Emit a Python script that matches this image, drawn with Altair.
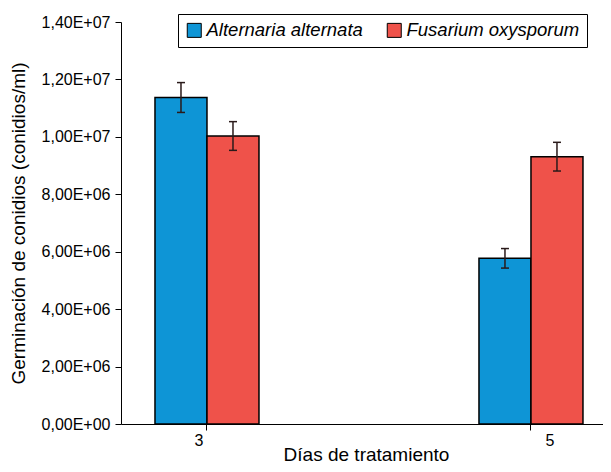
import altair as alt
import pandas as pd

# ---- data ----
days = ["3", "5"]
series = ["Alternaria alternata", "Fusarium oxysporum"]
alternaria_mean = [1.137e7, 5.77e6]
alternaria_err = [0.52e6, 0.34e6]
fusarium_mean = [1.003e7, 9.31e6]
fusarium_err = [0.50e6, 0.50e6]
colors = ["#0E95D6", "#EF524A"]
y_ticks = [0, 2e6, 4e6, 6e6, 8e6, 1e7, 1.2e7, 1.4e7]

rows = []
for i, d in enumerate(days):
    rows.append({"day": d, "serie": series[0], "mean": alternaria_mean[i], "err": alternaria_err[i]})
    rows.append({"day": d, "serie": series[1], "mean": fusarium_mean[i], "err": fusarium_err[i]})
df = pd.DataFrame(rows)

FONT = "Liberation Sans"

base = alt.Chart(df).transform_calculate(
    lo="datum.mean - datum.err", hi="datum.mean + datum.err"
)

x = alt.X(
    "day:N",
    sort=days,
    title="Días de tratamiento",
    scale=alt.Scale(range=[0, 490], paddingInner=0.679, paddingOuter=0.0957, align=0.548),
    axis=alt.Axis(
        labelAngle=0,
        labelFontSize=16,
        labelFont=FONT,
        labelColor="black",
        labelPadding=2,
        labelOffset={"condition": {"test": "datum.value == '3'", "value": -8}, "value": 19},
        tickSize=6,
        tickColor="black",
        domainColor="black",
        titleFont=FONT,
        titleFontSize=19,
        titleFontWeight="normal",
        titleColor="black",
        titleBaseline="alphabetic",
        titleX=245,
        titleY=36,
    ),
)
xoff = alt.XOffset("serie:N", sort=series, scale=alt.Scale(paddingInner=0, paddingOuter=0))

ylabel_expr = (
    "datum.value == 0 ? '0,00E+00' : "
    "replace(format(datum.value / pow(10, floor(log(datum.value) / LN10 + 1e-9)), '.2f'), '.', ',')"
    " + 'E+' + (floor(log(datum.value) / LN10 + 1e-9) < 10 ? '0' : '')"
    " + floor(log(datum.value) / LN10 + 1e-9)"
)

y = alt.Y(
    "mean:Q",
    title="Germinación de conidios (conidios/ml)",
    scale=alt.Scale(domain=[0, 1.4e7], nice=False, zero=True),
    axis=alt.Axis(
        values=y_ticks,
        labelExpr=ylabel_expr,
        grid=False,
        labelFontSize=16,
        labelFont=FONT,
        labelColor="black",
        labelPadding=5,
        tickSize=6,
        tickColor="black",
        domainColor="black",
        titleFont=FONT,
        titleFontSize=19,
        titleFontWeight="normal",
        titleColor="black",
        titlePadding=13,
    ),
)

color = alt.Color(
    "serie:N",
    sort=series,
    scale=alt.Scale(domain=series, range=colors),
    legend=alt.Legend(
        title=None,
        orient="none",
        legendX=57,
        legendY=-8,
        direction="horizontal",
        strokeColor="black",
        padding=7,
        symbolType="square",
        symbolSize=196,
        symbolStrokeColor="black",
        symbolStrokeWidth=1,
        symbolOpacity=1,
        labelFont=FONT,
        labelFontSize=18.5,
        labelFontStyle="italic",
        labelColor="black",
        labelOffset=3,
        columnPadding=22,
        labelLimit=300,
    ),
)

ERR_COLOR = "#2a1a1a"

bars = base.mark_bar(stroke="black", strokeWidth=1.5, opacity=1).encode(
    x=x, xOffset=xoff, y=y, color=color
)
rules = base.mark_rule(color=ERR_COLOR, strokeWidth=1.5).encode(
    x=x, xOffset=xoff, y="lo:Q", y2="hi:Q"
)
cap_lo = base.mark_tick(color=ERR_COLOR, size=8, thickness=1.5, orient="horizontal", opacity=1).encode(
    x=x, xOffset=xoff, y="lo:Q"
)
cap_hi = base.mark_tick(color=ERR_COLOR, size=8, thickness=1.5, orient="horizontal", opacity=1).encode(
    x=x, xOffset=xoff, y="hi:Q"
)

chart = (
    alt.layer(bars, rules, cap_lo, cap_hi)
    .properties(
        width=482,
        height=402,
        padding={"left": 113, "top": 14, "right": 0, "bottom": 40},
        autosize=alt.AutoSizeParams(type="none"),
        background="white",
    )
    .configure_view(stroke=None)
)

chart.save("out.html", embed_options={"renderer": "svg", "actions": False})
